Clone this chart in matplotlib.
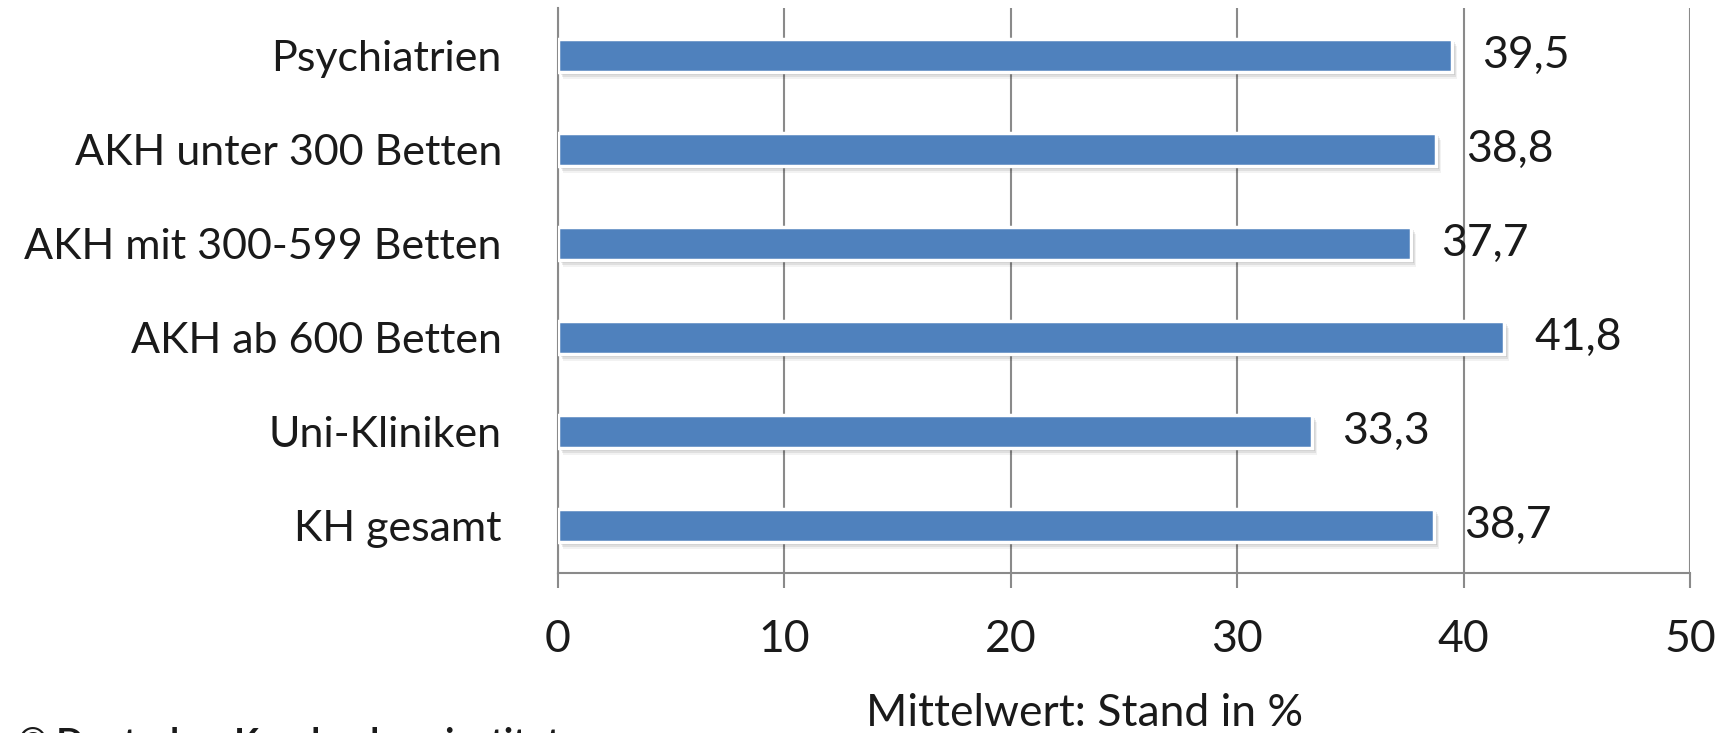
import matplotlib
matplotlib.use("Agg")
import matplotlib.pyplot as plt
import matplotlib.transforms as mtransforms

categories = ["Psychiatrien", "AKH unter 300 Betten", "AKH mit 300-599 Betten",
              "AKH ab 600 Betten", "Uni-Kliniken", "KH gesamt"]
values = [39.5, 38.8, 37.7, 41.8, 33.3, 38.7]
value_labels = ["39,5", "38,8", "37,7", "41,8", "33,3", "38,7"]
xticks = [0, 10, 20, 30, 40, 50]
xlabel = "Mittelwert: Stand in %"
credit = "© Deutsches Krankenhausinstitut"

W, H = 1730, 733
DPI = 100
plt.rcParams['font.family'] = ['Lato', 'DejaVu Sans']
FS = 32
TXT = '#1a1a1a'
GRID = '#8a8a8a'
BAR = '#4f81bd'

fig = plt.figure(figsize=(W / DPI, H / DPI), dpi=DPI)
left, right, bottom, top = 557.5, 1690, 573, 8
ax = fig.add_axes([left / W, (H - bottom) / H, (right - left) / W, (bottom - top) / H])

ypos = list(range(len(categories)))
bh = 0.35

# shadow
for dx, dy, a in [(3, -3, 0.10), (4, -5, 0.08), (5, -7, 0.05)]:
    off = mtransforms.offset_copy(ax.transData, fig=fig, x=dx, y=dy, units='dots')
    ax.barh(ypos, values, height=bh, color='black', alpha=a, linewidth=0,
            transform=off, zorder=2)

ax.barh(ypos, values, height=bh, color=BAR, edgecolor='white', linewidth=2.5, zorder=3)

for y, v, lab in zip(ypos, values, value_labels):
    ax.annotate(lab, xy=(v, y), xytext=(30, 0), textcoords='offset pixels',
                ha='left', va='center', fontsize=FS, color=TXT, zorder=4)

ax.set_xlim(0, 50)
ax.set_ylim(len(categories) - 0.5, -0.5)
ax.set_xticks(xticks)
ax.set_xticklabels([str(t) for t in xticks], fontsize=FS, color=TXT)
ax.set_yticks(ypos)
ax.set_yticklabels(categories, fontsize=31, color=TXT)
ax.tick_params(axis='y', length=0, pad=40)
ax.tick_params(axis='x', length=11, width=1.5, color=GRID, pad=22, direction='out')
ax.grid(axis='x', color=GRID, linewidth=1.5, zorder=1)
ax.set_axisbelow(True)
for s in ['top', 'right']:
    ax.spines[s].set_visible(False)
for s in ['left', 'bottom']:
    ax.spines[s].set_color(GRID)
    ax.spines[s].set_linewidth(1.5)

fig.text(1085 / W, 1 - 713 / H, xlabel, ha='center', va='center', fontsize=FS, color=TXT)
fig.text(18 / W, 1 - 727 / H, credit, ha='left', va='top', fontsize=26, fontweight='bold', color=TXT)

fig.savefig("out.png", dpi=DPI)
